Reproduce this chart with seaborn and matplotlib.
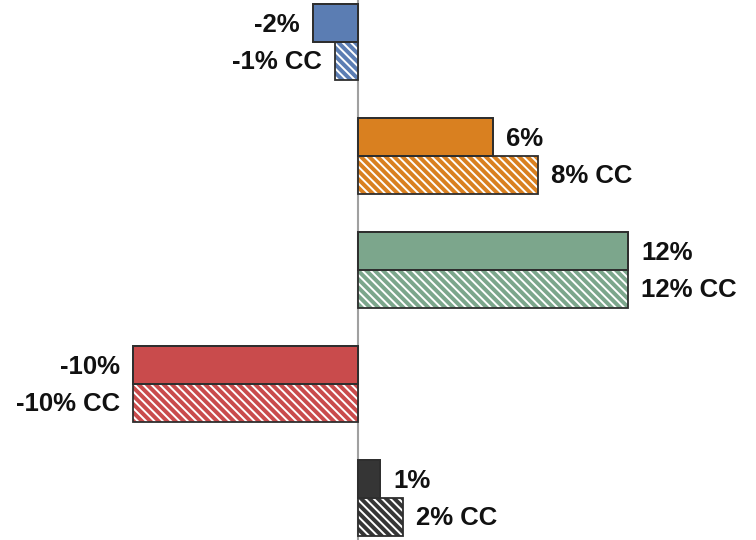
import matplotlib
matplotlib.use("Agg")
import matplotlib.pyplot as plt
from matplotlib.patches import Rectangle
import seaborn as sns
import pandas as pd

# Percentage change per group, reported and constant-currency (CC)
groups = ["A", "B", "C", "D", "E"]
reported = [-2, 6, 12, -10, 1]
constant_currency = [-1, 8, 12, -10, 2]
group_colors = ["#5b7db3", "#d98020", "#7ca68c", "#c94b4c", "#353535"]
kinds = ["reported", "cc"]

df = pd.DataFrame({
    "group": groups * 2,
    "value": reported + constant_currency,
    "kind": ["reported"] * len(groups) + ["cc"] * len(groups),
})

sns.set_style("white")
plt.rcParams["font.family"] = ["Liberation Sans", "DejaVu Sans"]
plt.rcParams["hatch.linewidth"] = 1.4

fig = plt.figure(figsize=(7.56, 5.4), dpi=100)
ax = fig.add_axes([0, 0, 1, 1])

sns.barplot(data=df, y="group", x="value", hue="kind", hue_order=kinds,
            order=groups, orient="h", width=0.66, dodge=True,
            legend=False, ax=ax)

edge = "#2e2e2e"
for k, container in enumerate(ax.containers):
    for i, bar in enumerate(container):
        bar.set_facecolor(group_colors[i])
        if k == 1:
            bar.set_hatch("\\\\\\\\")
            bar.set_edgecolor("white")
            bar.set_linewidth(0)
        else:
            bar.set_edgecolor(edge)
            bar.set_linewidth(1.3)
        # dark outline drawn over each bar
        ax.add_patch(Rectangle((bar.get_x(), bar.get_y()), bar.get_width(),
                               bar.get_height(), fill=False, edgecolor=edge,
                               linewidth=1.3, zorder=bar.get_zorder() + 0.1))

ax.axvline(0, color="#a0a0a0", linewidth=1.5, zorder=0.5)

# Value labels next to bar ends
for k, (container, vals) in enumerate(zip(ax.containers, [reported, constant_currency])):
    suffix = "" if k == 0 else " CC"
    for bar, v in zip(container, vals):
        yc = bar.get_y() + bar.get_height() / 2
        side = 1 if v >= 0 else -1
        ax.annotate(f"{v}%{suffix}", (v, yc), xytext=(side * 9.5, -1),
                    textcoords="offset points",
                    ha="left" if v >= 0 else "right", va="center",
                    fontsize=18.5, fontweight="bold", color="#111111")

ax.set_xlim(-15.91, 17.69)
ax.set_ylim(4.368, -0.368)
ax.set_xlabel("")
ax.set_ylabel("")
ax.set_xticks([])
ax.set_yticks([])
for s in ax.spines.values():
    s.set_visible(False)

fig.savefig("out.png", dpi=100)
